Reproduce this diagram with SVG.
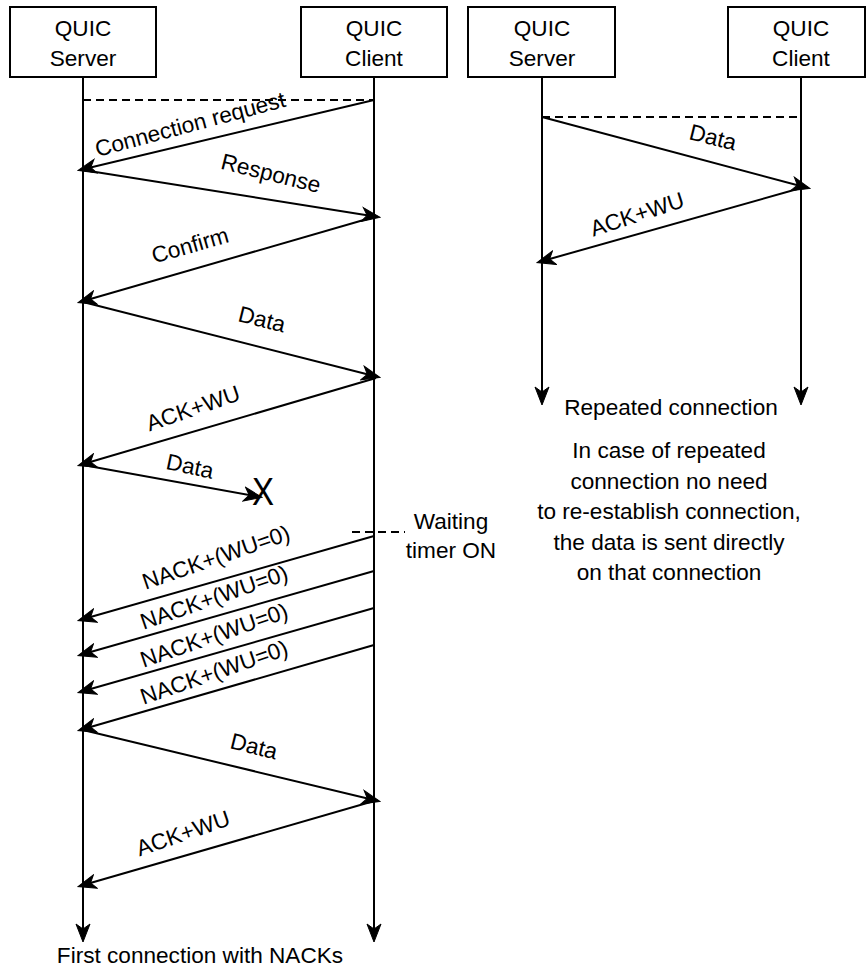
<svg xmlns="http://www.w3.org/2000/svg" width="866" height="969" viewBox="0 0 866 969">
  <style>
    .box { fill: #ffffff; stroke: #000000; stroke-width: 2; }
    .life { fill: none; stroke: #000000; stroke-width: 2; marker-end: url(#arrow); }
    .msg { fill: none; stroke: #000000; stroke-width: 2; marker-end: url(#arrow); }
    .dash { fill: none; stroke: #000000; stroke-width: 2; stroke-dasharray: 8 5; }
    text { font-family: "Liberation Sans", Arial, Helvetica, sans-serif; font-size: 22.6px; fill: #000000; }
    .c { text-anchor: middle; }
  </style>
  <defs>
    <marker id="arrow" markerUnits="userSpaceOnUse" markerWidth="20" markerHeight="16" viewBox="0 0 20 16" refX="17" refY="8" orient="auto">
      <path d="M1,1 L19,8 L1,15 L6,8 Z" fill="#000000" stroke="#000000" stroke-width="1" stroke-linejoin="miter"/>
    </marker>
  </defs>

  <rect width="866" height="969" fill="#ffffff"/>

  <!-- First connection: participants -->
  <g id="server1">
    <rect class="box" x="10" y="7" width="146" height="70"/>
    <text class="c" x="83" y="36">QUIC</text>
    <text class="c" x="83" y="66">Server</text>
  </g>
  <g id="client1">
    <rect class="box" x="301" y="7" width="146" height="70"/>
    <text class="c" x="374" y="36">QUIC</text>
    <text class="c" x="374" y="66">Client</text>
  </g>

  <!-- Repeated connection: participants -->
  <g id="server2">
    <rect class="box" x="468" y="7" width="147" height="70"/>
    <text class="c" x="542" y="36">QUIC</text>
    <text class="c" x="542" y="66">Server</text>
  </g>
  <g id="client2">
    <rect class="box" x="728" y="7" width="137" height="70"/>
    <text class="c" x="801" y="36">QUIC</text>
    <text class="c" x="801" y="66">Client</text>
  </g>

  <g id="connectors">
    <!-- lifelines -->
    <line class="life" x1="83" y1="77" x2="83" y2="940"/>
    <line class="life" x1="374" y1="77" x2="374" y2="940"/>
    <line class="life" x1="542" y1="77" x2="542" y2="403"/>
    <line class="life" x1="801" y1="77" x2="801" y2="403"/>

    <!-- first connection messages -->
    <line class="dash" x1="83" y1="100" x2="374" y2="100"/>
    <line class="msg" x1="374" y1="100" x2="80" y2="170"/>
    <line class="msg" x1="83" y1="170" x2="378" y2="217"/>
    <line class="msg" x1="374" y1="217" x2="80" y2="302"/>
    <line class="msg" x1="83" y1="302" x2="378" y2="377"/>
    <line class="msg" x1="376" y1="378" x2="80" y2="465"/>
    <line class="msg" x1="83" y1="465" x2="260" y2="497"/>

    <line class="dash" x1="352" y1="532" x2="405" y2="532"/>
    <line class="msg" x1="374" y1="536" x2="80" y2="620"/>
    <line class="msg" x1="374" y1="571" x2="80" y2="655"/>
    <line class="msg" x1="374" y1="608" x2="80" y2="692"/>
    <line class="msg" x1="374" y1="645" x2="80" y2="730"/>
    <line class="msg" x1="83" y1="730" x2="378" y2="801"/>
    <line class="msg" x1="374" y1="801" x2="80" y2="886"/>

    <!-- repeated connection messages -->
    <line class="dash" x1="542" y1="117" x2="801" y2="117"/>
    <line class="msg" x1="542" y1="117" x2="808" y2="188"/>
    <line class="msg" x1="801" y1="188" x2="539" y2="262"/>
  </g>

  <g id="labels">
    <text class="c" transform="translate(190,124) rotate(-15)" y="8">Connection request</text>
    <text class="c" transform="translate(271,173) rotate(14)" y="8">Response</text>
    <text class="c" transform="translate(190,245) rotate(-16)" y="8">Confirm</text>
    <text class="c" transform="translate(262,319) rotate(14)" y="8">Data</text>
    <text class="c" transform="translate(193,408) rotate(-19)" y="8">ACK+WU</text>
    <text class="c" transform="translate(190,466) rotate(12)" y="8">Data</text>
    <text class="c" transform="translate(263,505) scale(1,1.15)" style="font-size:33px">X</text>

    <text class="c" x="451" y="529">Waiting</text>
    <text class="c" x="451" y="558">timer ON</text>

    <text class="c" transform="translate(216,557) rotate(-19)" y="8">NACK+(WU=0)</text>
    <text class="c" transform="translate(214,597) rotate(-19)" y="8">NACK+(WU=0)</text>
    <text class="c" transform="translate(214,635) rotate(-19)" y="8">NACK+(WU=0)</text>
    <text class="c" transform="translate(214,672) rotate(-19)" y="8">NACK+(WU=0)</text>

    <text class="c" transform="translate(254,746) rotate(14)" y="8">Data</text>
    <text class="c" transform="translate(183,833) rotate(-19)" y="8">ACK+WU</text>

    <text class="c" x="200" y="963">First connection with NACKs</text>

    <text class="c" transform="translate(713,137) rotate(14)" y="8">Data</text>
    <text class="c" transform="translate(637,214) rotate(-18)" y="8">ACK+WU</text>

    <text class="c" x="671" y="415">Repeated connection</text>
    <text class="c" x="669" y="458">In case of repeated</text>
    <text class="c" x="669" y="489">connection no need</text>
    <text class="c" x="669" y="519">to re-establish connection,</text>
    <text class="c" x="669" y="550">the data is sent directly</text>
    <text class="c" x="669" y="580">on that connection</text>
  </g>
</svg>
